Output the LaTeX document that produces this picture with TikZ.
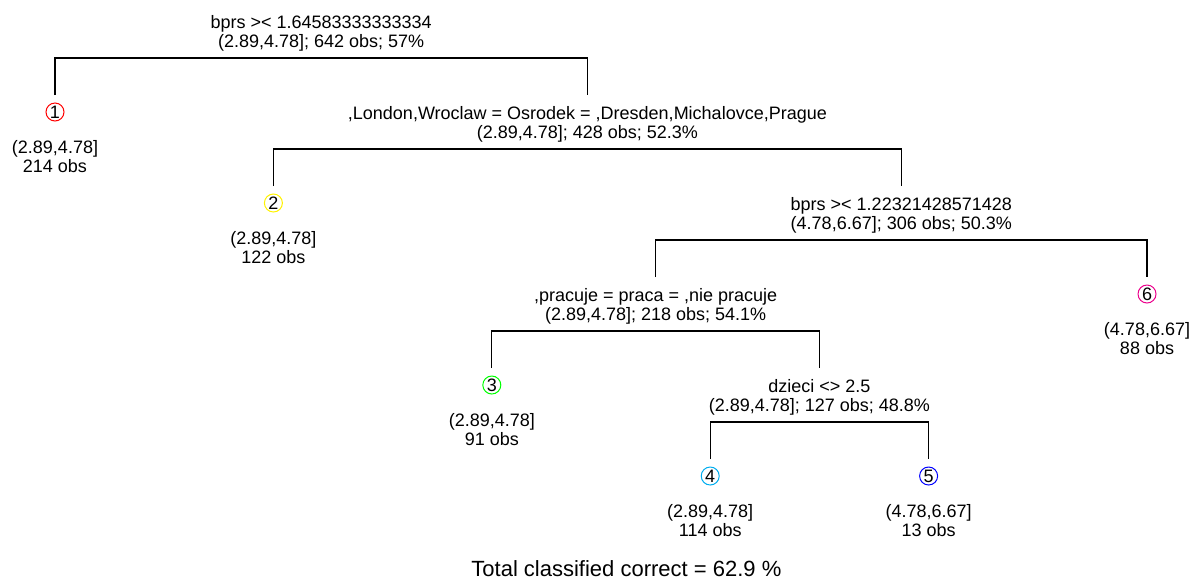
\documentclass[tikz,border=0pt]{standalone}
\usepackage{fontspec}
\setmainfont{Liberation Sans}
\usetikzlibrary{shapes,arrows}
\tikzstyle{split} = [align=center, inner sep=0pt, node distance=14.75pt]
\tikzstyle{leaf} = [circle, draw, inner sep=0pt, minimum size=9pt, line width=0.5pt, node distance=8.5pt]
\tikzstyle{info} = [align=center, inner sep=0pt, node distance=22.25pt]
\tikzstyle{line} = [draw, line width=0.6pt]
\begin{document}
\begin{tikzpicture}[x=0.5pt, y=-0.5pt, font=\fontsize{9}{9.5}\selectfont]
			\useasboundingbox (0,0) rectangle (1192,580);
			% node points of the tree
			\coordinate (k0) at (321.2,4);
			\coordinate (l1) at (55,95);
			\coordinate (k1) at (587.4,95);
			\coordinate (l2) at (273.4,186);
			\coordinate (k2) at (901.3,186);
			\coordinate (k3) at (655.6,277);
			\coordinate (l6) at (1147,277);
			\coordinate (l3) at (491.8,368);
			\coordinate (k4) at (819.4,368);
			\coordinate (l4) at (710.2,459);
			\coordinate (l5) at (928.6,459);
			% splits
			\node [split, below of=k0] (s0) {bprs >< 1.64583333333334\\(2.89,4.78]; 642 obs; 57\%};
			\node [split, below of=k1] (s1) {,London,Wroclaw = Osrodek = ,Dresden,Michalovce,Prague\\(2.89,4.78]; 428 obs; 52.3\%};
			\node [split, below of=k2] (s2) {bprs >< 1.22321428571428\\(4.78,6.67]; 306 obs; 50.3\%};
			\node [split, below of=k3] (s3) {,pracuje = praca = ,nie pracuje\\(2.89,4.78]; 218 obs; 54.1\%};
			\node [split, below of=k4] (s4) {dzieci <> 2.5\\(2.89,4.78]; 127 obs; 48.8\%};
			\coordinate [below of=s0, node distance=12.25pt] (b0);
			\coordinate [below of=s1, node distance=12.25pt] (b1);
			\coordinate [below of=s2, node distance=12.25pt] (b2);
			\coordinate [below of=s3, node distance=12.25pt] (b3);
			\coordinate [below of=s4, node distance=12.25pt] (b4);
			% leaves
			\node [leaf, draw=red, below of=l1] (c1) {1};
			\node [leaf, draw=yellow, below of=l2] (c2) {2};
			\node [leaf, draw=green, below of=l3] (c3) {3};
			\node [leaf, draw=cyan, below of=l4] (c4) {4};
			\node [leaf, draw=blue, below of=l5] (c5) {5};
			\node [leaf, draw=magenta, below of=l6] (c6) {6};
			\node [info, below of=c1] (i1) {(2.89,4.78]\\214 obs};
			\node [info, below of=c2] (i2) {(2.89,4.78]\\122 obs};
			\node [info, below of=c3] (i3) {(2.89,4.78]\\91 obs};
			\node [info, below of=c4] (i4) {(2.89,4.78]\\114 obs};
			\node [info, below of=c5] (i5) {(4.78,6.67]\\13 obs};
			\node [info, below of=c6] (i6) {(4.78,6.67]\\88 obs};
			\path [line] (l1) |- (b0) -| (k1);
			\path [line] (l2) |- (b1) -| (k2);
			\path [line] (k3) |- (b2) -| (l6);
			\path [line] (l3) |- (b3) -| (k4);
			\path [line] (l4) |- (b4) -| (l5);
			\node [font=\fontsize{11}{12}\selectfont, inner sep=0pt] (total) at (626.4,569) {Total classified correct = 62.9 \%};
		\end{tikzpicture}
\end{document}
